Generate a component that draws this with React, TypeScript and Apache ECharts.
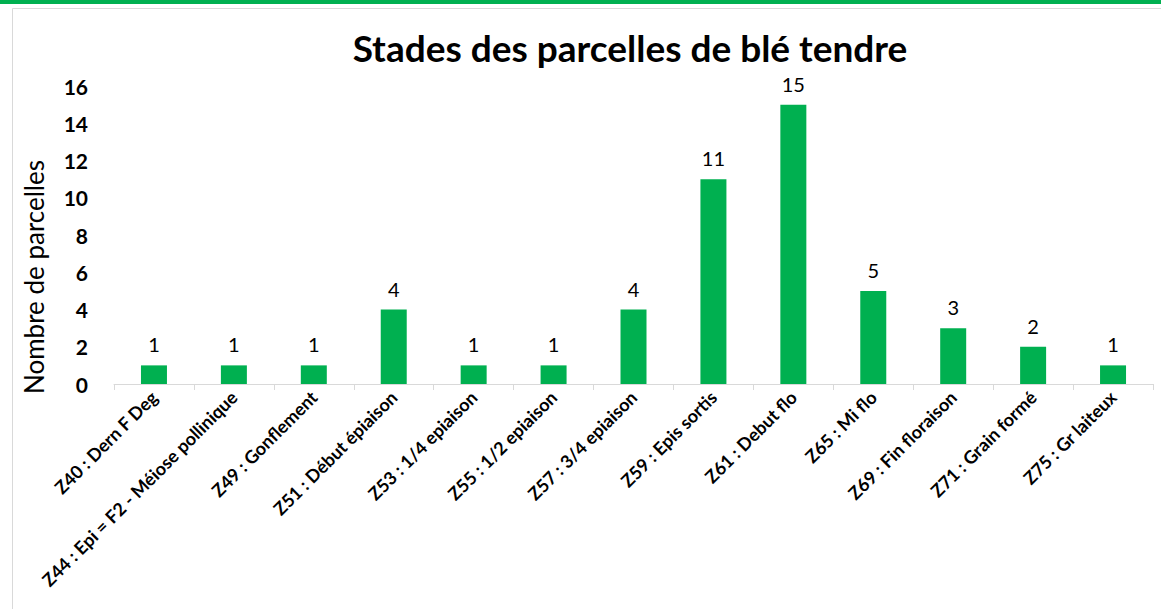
import React, { useEffect, useRef } from "react";
import * as echarts from "echarts";

const title = "Stades des parcelles de blé tendre";
const yAxisName = "Nombre de parcelles";
const categories = [
  "Z40 : Dern F Deg",
  "Z44 : Epi = F2 - Méiose pollinique",
  "Z49 : Gonflement",
  "Z51 : Début épiaison",
  "Z53 : 1/4 epiaison",
  "Z55 : 1/2 epiaison",
  "Z57 : 3/4 epiaison",
  "Z59 : Epis sortis",
  "Z61 : Debut flo",
  "Z65 : Mi flo",
  "Z69 : Fin floraison",
  "Z71 : Grain formé",
  "Z75 : Gr laiteux",
];
const values = [1, 1, 1, 4, 1, 1, 4, 11, 15, 5, 3, 2, 1];
const yMin = 0;
const yMax = 16;
const yInterval = 2;

const FONT = "Lato, 'Open Sans', sans-serif";
const GREEN = "#00B050";

export default function App() {
  const ref = useRef<HTMLDivElement>(null);
  useEffect(() => {
    document.body.style.margin = "0";
    const chart = echarts.init(ref.current!, null, { renderer: "svg" });
    chart.setOption({
      animation: false,
      backgroundColor: "#ffffff",
      title: {
        text: title,
        left: 625,
        textAlign: "center",
        top: 24,
        textStyle: { fontFamily: FONT, fontSize: 37, fontWeight: "bold", color: "#000" },
      },
      graphic: [
        { type: "rect", shape: { x: 0, y: 0, width: 1161, height: 4 }, style: { fill: GREEN } },
        {
          type: "polyline",
          shape: { points: [[12.5, 620], [12.5, 8.5], [1170, 8.5]] },
          style: { stroke: "#d9d9d9", fill: "none", lineWidth: 1 },
        },
        {
          type: "text",
          x: 34,
          y: 277,
          rotation: Math.PI / 2,
          style: {
            text: yAxisName,
            fontFamily: FONT,
            fontSize: 26,
            fill: "#000",
            align: "center",
            verticalAlign: "middle",
          },
        },
      ],
      grid: { left: 114, right: 8, top: 86, bottom: 225, containLabel: false },
      xAxis: {
        type: "category",
        data: categories,
        axisLine: { lineStyle: { color: "#d9d9d9", width: 1 } },
        axisTick: { show: true, length: 6, lineStyle: { color: "#d9d9d9" } },
        axisLabel: {
          rotate: 45,
          interval: 0,
          margin: 10,
          fontFamily: FONT,
          fontSize: 18,
          fontWeight: "bold",
          color: "#000",
        },
      },
      yAxis: {
        type: "value",
        min: yMin,
        max: yMax,
        interval: yInterval,
        axisLine: { show: false },
        axisTick: { show: false },
        splitLine: { show: false },
        axisLabel: {
          margin: 26,
          fontFamily: FONT,
          fontSize: 21,
          fontWeight: "bold",
          color: "#000",
        },
      },
      series: [
        {
          type: "bar",
          data: values,
          barWidth: 26,
          itemStyle: { color: GREEN },
          label: {
            show: true,
            position: "top",
            distance: 11,
            fontFamily: FONT,
            fontSize: 20,
            color: "#000",
          },
        },
      ],
    });
    return () => chart.dispose();
  }, []);
  return <div ref={ref} style={{ width: 1161, height: 609 }} />;
}
